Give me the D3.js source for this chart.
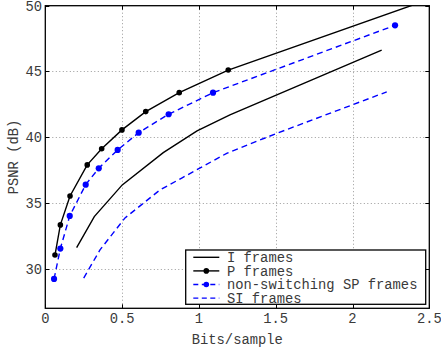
<!DOCTYPE html>
<html>
<head>
<meta charset="utf-8">
<script src="https://cdn.jsdelivr.net/npm/d3@7"></script>
<style>
  body { margin: 0; background: #fff; }
  svg text { font-family: "Courier New", "Liberation Mono", monospace; font-size: 13.8px; fill: #3a3a3a; }
</style>
</head>
<body>
<svg id="chart" width="441" height="349"></svg>
<script>
// data
const iFrames = [[0.204, 31.61], [0.319, 33.97], [0.501, 36.38], [0.768, 38.83], [0.988, 40.48], [1.202, 41.70], [2.19, 46.63]];
const pFrames = [[0.063, 31.05], [0.098, 33.34], [0.161, 35.54], [0.273, 37.9], [0.367, 39.13], [0.499, 40.56], [0.654, 41.95], [0.872, 43.39], [1.191, 45.11], [2.6, 50.9]];
const spFrames = [[0.057, 29.23], [0.098, 31.54], [0.159, 34.02], [0.263, 36.4], [0.348, 37.64], [0.471, 39.04], [0.608, 40.35], [0.803, 41.75], [1.092, 43.39], [2.277, 48.51]];
const siFrames = [[0.25, 29.3], [0.356, 31.44], [0.519, 33.87], [0.747, 36.0], [0.888, 36.9], [1.181, 38.78], [1.507, 40.3], [2.223, 43.45]];
const xTicks = [0, 0.5, 1, 1.5, 2, 2.5];
const yTicks = [30, 35, 40, 45, 50];
const legendLabels = ['I frames', 'P frames', 'non-switching SP frames', 'SI frames'];

const svg = d3.select('#chart');
const pL = 45.3, pR = 429.3, pT = 5.7, pB = 308.3;

const x = d3.scaleLinear().domain([0, 2.5]).range([pL, pR]);
const y = d3.scaleLinear().domain([27, 50]).range([pB, pT]);

// grid
const grid = svg.append('g').attr('stroke', '#999').attr('stroke-width', 1).attr('stroke-dasharray', '1,2.5');
grid.selectAll('.gx').data(xTicks.slice(1, -1)).enter().append('line')
  .attr('x1', d => Math.round(x(d)) + 0.5).attr('x2', d => Math.round(x(d)) + 0.5)
  .attr('y1', pT).attr('y2', pB);
grid.selectAll('.gy').data(yTicks.slice(0, -1)).enter().append('line')
  .attr('y1', d => Math.round(y(d)) + 0.5).attr('y2', d => Math.round(y(d)) + 0.5)
  .attr('x1', pL).attr('x2', pR);

// ticks (inward, all four sides)
const tk = svg.append('g').attr('stroke', '#000').attr('stroke-width', 1);
xTicks.forEach(d => {
  const px = Math.round(x(d)) + 0.5;
  tk.append('line').attr('x1', px).attr('x2', px).attr('y1', pB).attr('y2', pB - 4);
  tk.append('line').attr('x1', px).attr('x2', px).attr('y1', pT).attr('y2', pT + 4);
});
yTicks.forEach(d => {
  const py = Math.round(y(d)) + 0.5;
  tk.append('line').attr('y1', py).attr('y2', py).attr('x1', pL).attr('x2', pL + 4);
  tk.append('line').attr('y1', py).attr('y2', py).attr('x1', pR).attr('x2', pR - 4);
});

// tick labels
svg.append('g').selectAll('text').data(xTicks).enter().append('text')
  .attr('x', d => x(d)).attr('y', 323).attr('text-anchor', 'middle')
  .text(d => d === 0 ? '0' : String(d));
svg.append('g').selectAll('text').data(yTicks).enter().append('text')
  .attr('x', 42).attr('y', d => y(d)).attr('dy', '0.35em').attr('text-anchor', 'end')
  .text(d => d);

svg.append('text').attr('x', (pL + pR) / 2).attr('y', 344).attr('text-anchor', 'middle').text('Bits/sample');
svg.append('text').attr('transform', `translate(18,${(pT + pB) / 2}) rotate(-90)`)
  .attr('text-anchor', 'middle').text('PSNR (dB)');

// clip
svg.append('clipPath').attr('id', 'clip').append('rect')
  .attr('x', pL).attr('y', pT).attr('width', pR - pL).attr('height', pB - pT);

const line = d3.line().x(d => x(d[0])).y(d => y(d[1]));
const series = [
  { data: iFrames, color: '#000', dash: null, marker: false },
  { data: pFrames, color: '#000', dash: null, marker: true },
  { data: spFrames, color: '#0000ff', dash: '6,4', marker: true },
  { data: siFrames, color: '#0000ff', dash: '6,4', marker: false }
];

const plot = svg.append('g').attr('clip-path', 'url(#clip)');
series.forEach(s => {
  plot.append('path').attr('d', line(s.data)).attr('fill', 'none')
    .attr('stroke', s.color).attr('stroke-width', 1.4)
    .attr('stroke-dasharray', s.dash);
  if (s.marker) {
    plot.selectAll(null).data(s.data).enter().append('circle')
      .attr('cx', d => x(d[0])).attr('cy', d => y(d[1]))
      .attr('r', s.color === '#000' ? 2.8 : 3.1).attr('fill', s.color);
  }
});

// axes box
svg.append('rect').attr('x', pL).attr('y', pT).attr('width', pR - pL).attr('height', pB - pT)
  .attr('fill', 'none').attr('stroke', '#000').attr('stroke-width', 1.3);

// legend
const lg = svg.append('g');
lg.append('rect').attr('x', 185.7).attr('y', 250).attr('width', 240).attr('height', 54.3)
  .attr('fill', '#fff').attr('stroke', '#000').attr('stroke-width', 1.3);
legendLabels.forEach((lab, i) => {
  const s = series[i];
  const ly = 257.3 + i * 13.6;
  lg.append('line').attr('x1', 193.3).attr('x2', 219.3).attr('y1', ly).attr('y2', ly)
    .attr('stroke', s.color).attr('stroke-width', 1.4).attr('stroke-dasharray', s.dash ? '5,3.5' : null);
  if (s.marker) lg.append('circle').attr('cx', 206.3).attr('cy', ly).attr('r', 2.8).attr('fill', s.color);
  lg.append('text').attr('x', 227).attr('y', ly).attr('dy', '0.35em').text(lab);
});
</script>
</body>
</html>
